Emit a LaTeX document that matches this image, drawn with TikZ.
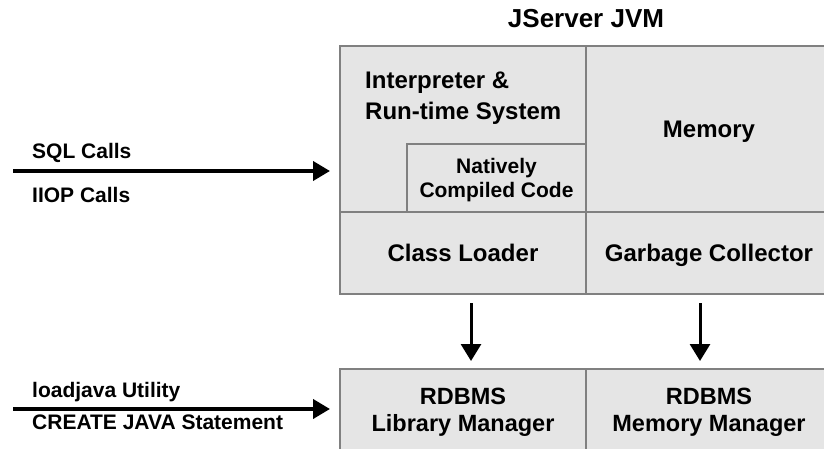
\documentclass[tikz,border=0pt]{standalone}
\usepackage{fontspec}
\setmainfont{Liberation Sans}
\usetikzlibrary{arrows.meta}
\tikzset{
	cell/.style={draw=black!50, fill=black!10, line width=2.7pt, outer sep=0pt, inner sep=0pt, align=center, text depth=0pt, font=\bfseries\fontsize{24}{31}\selectfont},
	sidetext/.style={anchor=base west, inner sep=0pt, font=\bfseries\fontsize{21}{25}\selectfont},
	inarrow/.style={line width=4pt, -{Triangle[length=17pt, width=19pt]}},
	dnarrow/.style={line width=3pt, -{Triangle[length=17pt, width=20pt]}, shorten <=9pt, shorten >=8pt}
}
\begin{document}
\begin{tikzpicture}[x=1pt, y=-1pt]
		\useasboundingbox (0,0) rectangle (824,449);
		\node[anchor=base, inner sep=0pt, font=\bfseries\fontsize{26}{30}\selectfont] (title) at (586,28) {JServer JVM};

		\node[cell, minimum width=246pt, minimum height=166pt] (interp) at (463,129) {};
		\node[anchor=north west, inner sep=0pt, align=left, font=\bfseries\fontsize{24}{31}\selectfont] (interptext) at (365,71.5) {Interpreter \&\\Run-time System};
		\node[cell, minimum width=179pt, minimum height=68pt, font=\bfseries\fontsize{21}{24}\selectfont] (native) at (496.5,178) {Natively\\Compiled Code};
		\node[cell, minimum width=246pt, minimum height=166pt] (memory) at (709,129) {Memory};
		\node[cell, minimum width=246pt, minimum height=82pt] (loader) at (463,253) {Class Loader};
		\node[cell, minimum width=246pt, minimum height=82pt] (gc) at (709,253) {Garbage Collector};

		\node[cell, minimum width=246pt, minimum height=86pt, text depth=3.8pt, font=\bfseries\fontsize{23.5}{27}\selectfont] (libmgr) at (463,412) {RDBMS\\Library Manager};
		\node[cell, minimum width=246pt, minimum height=86pt, text depth=3.8pt, font=\bfseries\fontsize{23.5}{27}\selectfont] (memmgr) at (709,412) {RDBMS\\Memory Manager};

		\node[sidetext] (sql) at (32,159) {SQL Calls};
		\node[sidetext] (iiop) at (32,203) {IIOP Calls};
		\node[sidetext] (loadjava) at (32,397) {loadjava Utility};
		\node[sidetext] (create) at (32,429) {CREATE JAVA Statement};

		\coordinate (callsfrom) at (13,171);
		\coordinate (loadfrom) at (13,409);
		\draw[inarrow, shorten >=10pt] (callsfrom) -- (callsfrom -| interp.west);
		\draw[inarrow, shorten >=10pt] (loadfrom) -- (loadfrom -| libmgr.west);

		\draw[dnarrow] ([xshift=8pt]loader.south) -- ([xshift=8pt]loader.south |- libmgr.north);
		\draw[dnarrow] ([xshift=-9pt]gc.south) -- ([xshift=-9pt]gc.south |- memmgr.north);
	\end{tikzpicture}
\end{document}
